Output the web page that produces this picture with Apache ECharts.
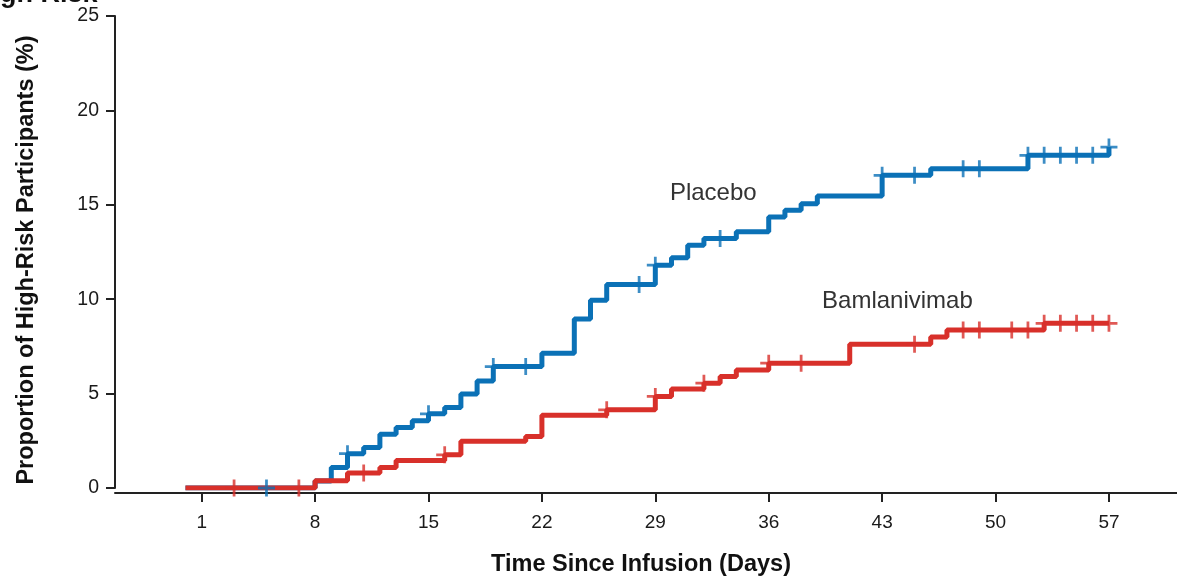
<!DOCTYPE html>
<html><head><meta charset="utf-8">
<script src="https://cdn.jsdelivr.net/npm/echarts@6/dist/echarts.min.js"></script>
<style>html,body{margin:0;padding:0;background:#fff;overflow:hidden}#c{width:1177px;height:582px}</style>
</head><body><div id="c"></div>
<script>
// ---- data ----
const xTickDays = [1, 8, 15, 22, 29, 36, 43, 50, 57];
const yTickValues = [0, 5, 10, 15, 20, 25];

const placeboDays = [0, 8, 9, 10, 11, 12, 13, 14, 15, 16, 17, 18, 19, 22, 24, 25, 26, 29, 30, 31, 32, 34, 36, 37, 38, 39, 43, 46, 52, 57];
const placeboPct  = [0, 0.37, 1.08, 1.82, 2.15, 2.85, 3.21, 3.56, 3.93, 4.26, 4.98, 5.67, 6.43, 7.14, 8.95, 9.95, 10.78, 11.8, 12.19, 12.86, 13.21, 13.57, 14.36, 14.71, 15.06, 15.46, 16.56, 16.91, 17.62, 18.06];
const placeboCensorDays = [5, 10, 15, 19, 21, 28, 29, 33, 43, 45, 48, 49, 52, 53, 54, 55, 56, 57];

const bamDays = [0, 8, 10, 12, 13, 16, 17, 21, 22, 26, 29, 30, 32, 33, 34, 36, 41, 46, 47, 53, 57];
const bamPct  = [0, 0.39, 0.79, 1.09, 1.45, 1.76, 2.47, 2.73, 3.85, 4.14, 4.85, 5.25, 5.55, 5.90, 6.25, 6.61, 7.62, 8.0, 8.37, 8.72, 8.72];
const bamCensorDays = [3, 7, 11, 16, 26, 29, 32, 36, 38, 45, 48, 49, 51, 52, 53, 54, 55, 56, 57];

const seriesNames = ['Placebo', 'Bamlanivimab'];
const titleText = 'High Risk';
const xAxisTitle = 'Time Since Infusion (Days)';
const yAxisTitle = 'Proportion of High-Risk Participants (%)';

// ---- helpers ----
function zip(xs, ys) { return xs.map((x, i) => [x, ys[i]]); }
function valueAt(days, vals, d) {
  let v = vals[0];
  for (let i = 0; i < days.length; i++) { if (days[i] <= d) v = vals[i]; }
  return v;
}
function censorPoints(cd, days, vals) { return cd.map(d => [d, valueAt(days, vals, d)]); }

const BLUE = '#0b71b6';
const RED = '#d8302a';
const FONT = '"Liberation Sans", Arial, Helvetica, sans-serif';
const PLUS = 'path://M6.7,0H9.3V16H6.7Z M0,6.7H16V9.3H0Z';

const chart = echarts.init(document.getElementById('c'), null, { renderer: 'canvas' });
chart.setOption({
  animation: false,
  backgroundColor: '#fff',
  graphic: [{
    type: 'text', left: -27, top: -19,
    style: { text: titleText, font: 'bold 27px ' + FONT, fill: '#111' }
  }],
  grid: { left: 115, right: 0, top: 16, bottom: 92, containLabel: false },
  xAxis: {
    type: 'value', min: -4.35, max: 61.2, offset: 5,
    splitLine: { show: false },
    axisLine: { show: true, onZero: false, lineStyle: { color: '#222', width: 2 } },
    axisTick: { show: true, customValues: xTickDays, length: 9, lineStyle: { color: '#222', width: 2 } },
    axisLabel: { customValues: xTickDays, margin: 20, fontSize: 19, color: '#1a1a1a', fontFamily: FONT },
    name: xAxisTitle, nameLocation: 'middle', nameGap: 60,
    nameTextStyle: { fontSize: 23.5, fontWeight: 'bold', color: '#111', fontFamily: FONT, padding: [0, 10, 0, 0] }
  },
  yAxis: {
    type: 'value', min: 0, max: 25, interval: 5,
    splitLine: { show: false },
    axisLine: { show: true, onZero: false, lineStyle: { color: '#222', width: 2 } },
    axisTick: { show: true, length: 9, lineStyle: { color: '#222', width: 2 } },
    axisLabel: { margin: 16, fontSize: 19.5, color: '#1a1a1a', fontFamily: FONT },
    name: yAxisTitle, nameLocation: 'middle', nameGap: 76, nameRotate: 90,
    nameTextStyle: { fontSize: 23.5, fontWeight: 'bold', color: '#111', fontFamily: FONT, padding: [0, 16, 0, 0] }
  },
  series: [
    {
      name: seriesNames[0], type: 'line', step: 'end', showSymbol: false, symbol: 'none',
      data: zip(placeboDays, placeboPct),
      lineStyle: { color: BLUE, width: 5 }, z: 2,
      markPoint: {
        symbol: 'circle', symbolSize: 0, silent: true,
        label: { show: true, position: 'right', distance: 0, formatter: seriesNames[0], fontSize: 24, color: '#333', fontFamily: FONT },
        data: [{ coord: [29.9, 15.61] }]
      }
    },
    {
      name: seriesNames[1], type: 'line', step: 'end', showSymbol: false, symbol: 'none',
      data: zip(bamDays, bamPct),
      lineStyle: { color: RED, width: 5 }, z: 3,
      markPoint: {
        symbol: 'circle', symbolSize: 0, silent: true,
        label: { show: true, position: 'right', distance: 0, formatter: seriesNames[1], fontSize: 24, color: '#333', fontFamily: FONT },
        data: [{ coord: [39.29, 9.86] }]
      }
    },
    {
      name: seriesNames[0] + ' censored', type: 'scatter', symbol: PLUS, symbolSize: 17,
      data: censorPoints(placeboCensorDays, placeboDays, placeboPct),
      itemStyle: { color: BLUE }, z: 5
    },
    {
      name: seriesNames[1] + ' censored', type: 'scatter', symbol: PLUS, symbolSize: 17,
      data: censorPoints(bamCensorDays, bamDays, bamPct),
      itemStyle: { color: RED }, z: 4
    }
  ]
});
</script></body></html>
